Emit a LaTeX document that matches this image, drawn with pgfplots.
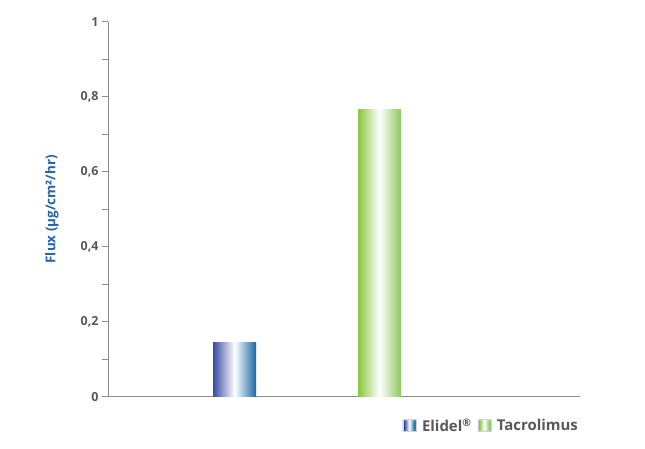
\documentclass[border=0pt]{standalone}
\usepackage{pgfplots}
\pgfplotsset{compat=1.18}
\usepackage{fontspec}
\setmainfont{Open Sans}
\definecolor{axisgray}{RGB}{140,140,140}
\definecolor{labelgray}{RGB}{89,89,89}
\definecolor{titleblue}{RGB}{38,100,168}
\definecolor{eblueL}{RGB}{55,75,160}
\definecolor{eblueR}{RGB}{25,105,165}
\definecolor{tgreenL}{RGB}{138,198,64}
\definecolor{tgreenR}{RGB}{140,200,95}

\begin{document}
\begin{tikzpicture}
  \begin{axis}[
      scale only axis,
      width=472bp, height=375bp,
      xmin=0, xmax=472,
      ymin=0, ymax=1,
      axis lines*=left,
      axis line style={axisgray, line width=1pt},
      xtick=\empty,
      ytick={0,0.2,0.4,0.6,0.8,1},
      minor y tick num=1,
      tick align=outside,
      major tick length=6bp, minor tick length=6bp,
      every tick/.style={axisgray, line width=0.8pt},
      every minor tick/.style={axisgray, line width=0.8pt},
      yticklabel style={font=\fontsize{12.5}{14}\selectfont\bfseries, text=labelgray,
        /pgf/number format/.cd, use comma, assume math mode=true},
      ylabel={Flux (µg/cm²/hr)},
      ylabel style={font=\fontsize{13.5}{15}\selectfont\bfseries, text=titleblue,
        at={(axis description cs:-0.119,0.5)}, anchor=center},
      ybar, bar width=43bp, bar shift=0pt,
      legend columns=2,
      legend style={draw=none, fill=none, at={(axis description cs:0.812,-0.077)},
        anchor=center, font=\fontsize{15}{17}\selectfont\bfseries, text=labelgray,
        /tikz/every odd column/.append style={column sep=4bp},
        /tikz/every even column/.append style={column sep=4bp}},
    ]
    \addplot[draw=none, left color=eblueL, right color=eblueR, middle color=white,
      legend image code/.code={
        \draw[gray!35, fill=white] (0bp,-6bp) rectangle (13bp,6bp);
        \shade[left color=eblueL, right color=eblueR, middle color=white]
          (1.5bp,-4.5bp) rectangle (11.5bp,4.5bp);}]
      coordinates {(126.5,0.145)};
    \addlegendentry{Elidel\textsuperscript{®}}
    \addplot[draw=none, left color=tgreenL, right color=tgreenR, middle color=white,
      legend image code/.code={
        \draw[gray!35, fill=white] (0bp,-6bp) rectangle (13bp,6bp);
        \shade[left color=tgreenL, right color=tgreenR, middle color=white]
          (1.5bp,-4.5bp) rectangle (11.5bp,4.5bp);}]
      coordinates {(271.5,0.765)};
    \addlegendentry{Tacrolimus}
  \end{axis}
  \path[use as bounding box] (-108bp,-52.3bp) rectangle (537bp,396.7bp);
\end{tikzpicture}
\end{document}
